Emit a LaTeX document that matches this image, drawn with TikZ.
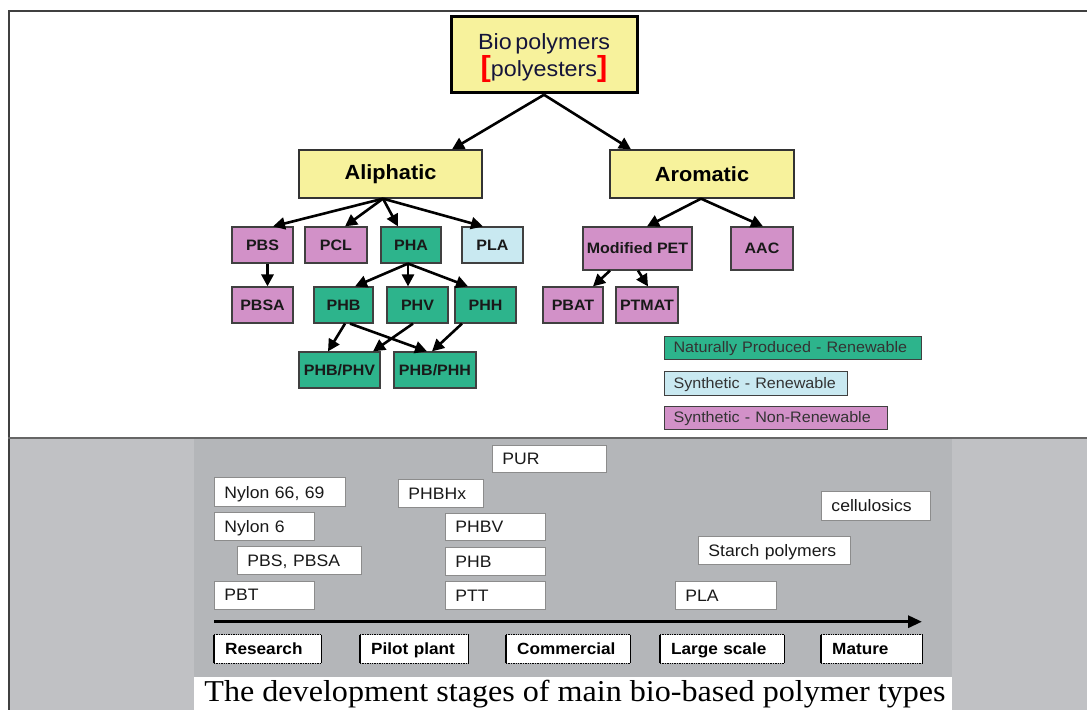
\documentclass[tikz,border=0pt]{standalone}
\usepackage{fontspec}
\setmainfont{Liberation Sans}[FakeStretch=1.06]
\newfontfamily\capfont{Liberation Serif}[FakeStretch=1.06]
\usetikzlibrary{arrows.meta}
\definecolor{yel}{HTML}{F7F29C}
\definecolor{pinkc}{HTML}{D291C8}
\definecolor{tealc}{HTML}{2DB48C}
\definecolor{bluec}{HTML}{C9E9F1}
\definecolor{outgrey}{HTML}{C0C1C4}
\definecolor{pangrey}{HTML}{B4B6B9}
\definecolor{navytext}{HTML}{15153A}
\begin{document}
\begin{tikzpicture}[x=1pt,y=-1pt,
 tb/.style={draw=black!75, line width=1.2, inner sep=0, font=\bfseries\fontsize{15.1}{15.1}\selectfont, text=black!90},
 pk/.style={tb, fill=pinkc},
 gr/.style={tb, fill=tealc},
 lb/.style={tb, fill=bluec},
 yb/.style={draw=black!80, line width=1.3, fill=yel, inner sep=0, minimum width=183, minimum height=48, font=\bfseries\fontsize{20.5}{20.5}\selectfont},
 arr/.style={-{Triangle[length=12pt,width=12pt]}, line width=2.6},
 lg/.style={draw=black!75, line width=1, anchor=west, inner xsep=9, inner ysep=0, align=left, text height=14.4, text depth=3.5, font=\fontsize{15.2}{15.2}\selectfont, text=black!80},
 wb/.style={draw=black!45, line width=0.9, fill=white, anchor=west, inner xsep=10, inner ysep=0, align=left, text height=15.4, text depth=3.5, font=\fontsize{16.6}{16.6}\selectfont, text=black!90},
 sg/.style={fill=white, anchor=west, inner xsep=11, inner ysep=0, align=left, minimum height=28.3, text height=15.1, text depth=3.5, font=\bfseries\fontsize{16.2}{16.2}\selectfont,
   append after command={(\tikzlastnode.north west) edge[densely dotted, line width=1.4] (\tikzlastnode.north east)
     (\tikzlastnode.south west) edge[densely dotted, line width=1.4] (\tikzlastnode.south east)
     (\tikzlastnode.north west) edge[line width=1.2] (\tikzlastnode.south west)
     (\tikzlastnode.north east) edge[line width=1.2] (\tikzlastnode.south east)}}
]
\useasboundingbox (0,0) rectangle (1087,710);
% backgrounds
\fill[white] (0,0) rectangle (1087,710);
\fill[outgrey] (9,438) rectangle (1087,710);
\fill[pangrey] (194,439) rectangle (952,677);
\fill[white] (194,677) rectangle (952,710);
\draw[black!75, line width=2.5] (8,11) -- (1087,11);
\draw[black!75, line width=2] (8.5,10) -- (8.5,710);
\draw[black!60, line width=1.5] (8,438) -- (1087,438);

% top
\node[draw=black, line width=3, fill=yel, minimum width=186, minimum height=75.5, inner sep=0, align=center,
  font=\fontsize{22}{27}\selectfont, text=navytext] (top) at (544,54.5)
  {\rule{0pt}{24pt}Bio\,polymers\\{\color{red}\bfseries\fontsize{29}{29}\selectfont[}polyesters{\color{red}\bfseries\fontsize{29}{29}\selectfont]}};
\node[yb] (ali) at (390.5,174) {Aliphatic};
\node[yb, minimum width=184] (aro) at (702,174) {Aromatic};

% aliphatic branch
\node[pk, minimum width=61, minimum height=36] (pbs) at (262.5,245) {PBS};
\node[pk, minimum width=62, minimum height=36] (pcl) at (336,245) {PCL};
\node[gr, minimum width=60, minimum height=36] (pha) at (411,245) {PHA};
\node[lb, minimum width=61, minimum height=36] (pla) at (492.5,245) {PLA};
\node[pk, minimum width=61, minimum height=36] (pbsa) at (262.5,305) {PBSA};
\node[gr, minimum width=59, minimum height=36] (phb) at (343.5,305) {PHB};
\node[gr, minimum width=61, minimum height=36] (phv) at (417.5,305) {PHV};
\node[gr, minimum width=61, minimum height=36] (phh) at (485.5,305) {PHH};
\node[gr, minimum width=81, minimum height=36] (phbphv) at (339.5,370) {PHB/PHV};
\node[gr, minimum width=82, minimum height=36] (phbphh) at (435,370) {PHB/PHH};

% aromatic branch
\node[pk, minimum width=109, minimum height=43] (mpet) at (637.5,248.5) {Modified PET};
\node[pk, minimum width=62, minimum height=43] (aac) at (762,248.5) {AAC};
\node[pk, minimum width=60, minimum height=36] (pbat) at (573,305) {PBAT};
\node[pk, minimum width=62, minimum height=36] (ptmat) at (647,305) {PTMAT};

% arrows
\draw[arr] ([yshift=-1]top.south) -- ([xshift=61.5]ali.north);
\draw[arr] ([yshift=-1]top.south) -- ([xshift=-71]aro.north);
\draw[arr] ([xshift=-7.5]ali.south) -- ([xshift=10.5]pbs.north);
\draw[arr] ([xshift=-7.5]ali.south) -- ([xshift=9]pcl.north);
\draw[arr] ([xshift=-7.5]ali.south) -- ([xshift=-13]pha.north);
\draw[arr] ([xshift=-7.5]ali.south) -- ([xshift=-9.5]pla.north);
\draw[arr, line width=3.6] ([xshift=5]pbs.south) -- ([xshift=5]pbsa.north);
\draw[arr] ([xshift=-3]pha.south) -- ([xshift=11.5]phb.north);
\draw[arr] ([xshift=-3]pha.south) -- ([xshift=-9.5]phv.north);
\draw[arr] ([xshift=-3]pha.south) -- ([xshift=-17.5]phh.north);
\draw[arr] ([xshift=1.5]phb.south) -- ([xshift=-11.5]phbphv.north);
\draw[arr] ([xshift=6.5]phb.south) -- ([xshift=-8]phbphh.north);
\draw[arr] ([xshift=-4.5]phv.south) -- ([xshift=33.5]phbphv.north);
\draw[arr] ([xshift=-23.5]phh.south) -- ([xshift=-3]phbphh.north);
\draw[arr] ([xshift=-1]aro.south) -- ([xshift=9.5]mpet.north);
\draw[arr] ([xshift=-1]aro.south) -- ([xshift=1]aac.north);
\draw[arr] ([xshift=-27.5]mpet.south) -- ([xshift=20]pbat.north);
\draw[arr] ([xshift=0.5]mpet.south) -- ([xshift=1]ptmat.north);

% legend
\node[lg, fill=tealc, text width=239, minimum height=23] (lg1) at (664,347.5) {Naturally Produced - Renewable};
\node[lg, fill=bluec, text width=165, minimum height=24] (lg2) at (664,383) {Synthetic - Renewable};
\node[lg, fill=pinkc, text width=205, minimum height=23] (lg3) at (664,417.5) {Synthetic - Non-Renewable};

% development stages
\node[wb, text width=94, minimum height=27.3] (pur) at (492,458.7) {PUR};
\node[wb, text width=111, minimum height=29] (ny66) at (214,492.2) {Nylon 66, 69};
\node[wb, text width=65, minimum height=28] (phbhx) at (398,493.3) {PHBHx};
\node[wb, text width=80, minimum height=27.3] (ny6) at (214,526.3) {Nylon 6};
\node[wb, text width=80, minimum height=27.4] (phbv) at (445,527) {PHBV};
\node[wb, text width=104, minimum height=27.6] (pbsb) at (237,560.5) {PBS, PBSA};
\node[wb, text width=80, minimum height=27.4] (phbb) at (445,561.3) {PHB};
\node[wb, text width=80, minimum height=28] (pbt) at (214,595) {PBT};
\node[wb, text width=80, minimum height=28] (ptt) at (445,595.7) {PTT};
\node[wb, text width=89, minimum height=29] (cell) at (821,505.5) {cellulosics};
\node[wb, text width=132, minimum height=27.6] (starch) at (698,550.5) {Starch polymers};
\node[wb, text width=81, minimum height=28.3] (plab) at (675,595.2) {PLA};

\coordinate (tl0) at (214,621.7);
\coordinate (tl1) at (922,621.7);
\draw[line width=3.2, -{Triangle[length=14pt,width=12pt]}] (tl0) -- (tl1);

\node[sg, text width=85] (res) at (214,649) {Research};
\node[sg, text width=86] (pil) at (360,649) {Pilot plant};
\node[sg, text width=102] (com) at (506,649) {Commercial};
\node[sg, text width=102] (lar) at (660,649) {Large scale};
\node[sg, text width=79] (mat) at (821,649) {Mature};

\node[font=\capfont\fontsize{30.3}{30.3}\selectfont, anchor=base, inner sep=0] (cap) at (575,701.7) {The development stages of main bio-based polymer types};
\end{tikzpicture}
\end{document}
